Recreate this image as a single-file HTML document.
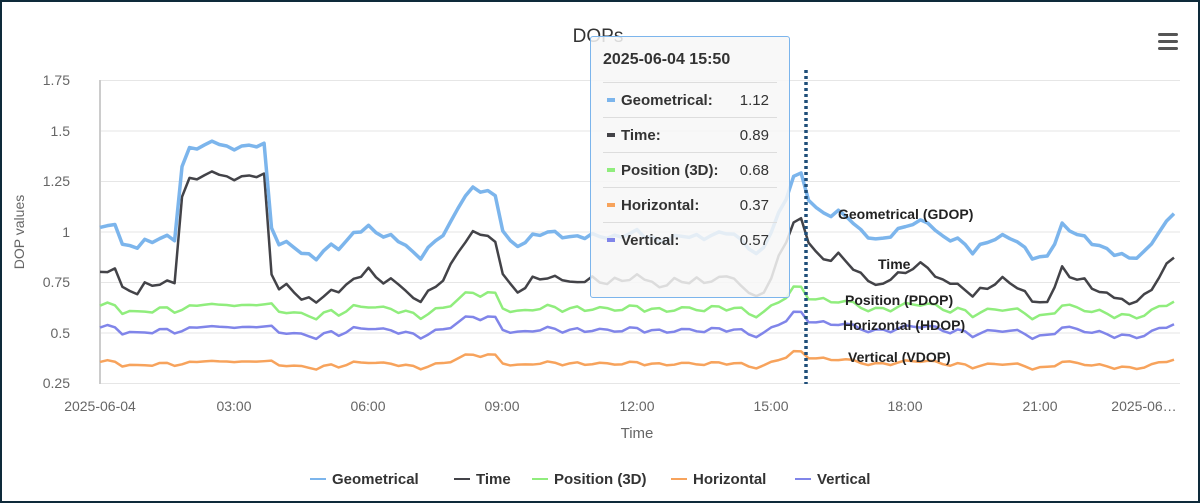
<!DOCTYPE html>
<html><head><meta charset="utf-8"><style>
html,body{margin:0;padding:0;background:#fff}
#w{position:relative;width:1196px;height:499px;border:2px solid #0e2a3a;overflow:hidden;font-family:"Liberation Sans",sans-serif}
svg text{font-family:"Liberation Sans",sans-serif}
#tt{position:absolute;left:588px;top:34px;width:200px;height:262px;background:rgba(247,247,247,0.85);border:1px solid #7cb5ec;border-radius:3px;box-sizing:border-box;font-size:15px;color:#333}
#tt .r{position:absolute;left:12px;right:12px;height:35px;border-top:1px solid #ddd;line-height:35px}
#tt .r span.v{position:absolute;right:8px}
#tt i{display:inline-block;width:8px;height:4px;margin:0 6px 3px 4px;vertical-align:middle}
</style></head><body><div id="w">
<svg width="1196" height="499" viewBox="2 2 1196 499" xmlns="http://www.w3.org/2000/svg">
<text x="598" y="42" text-anchor="middle" font-size="19" fill="#333">DOPs</text>
<g fill="#555"><rect x="1158" y="33" width="20" height="3" rx="1.5"/><rect x="1158" y="40" width="20" height="3" rx="1.5"/><rect x="1158" y="47" width="20" height="3" rx="1.5"/></g>
<g stroke="#e6e6e6" stroke-width="1">
<line x1="100" x2="1180" y1="80.5" y2="80.5"/><line x1="100" x2="1180" y1="131" y2="131"/><line x1="100" x2="1180" y1="181.5" y2="181.5"/><line x1="100" x2="1180" y1="232" y2="232"/><line x1="100" x2="1180" y1="282.5" y2="282.5"/><line x1="100" x2="1180" y1="333" y2="333"/><line x1="100" x2="1180" y1="383.5" y2="383.5"/>
</g>
<line x1="100" x2="100" y1="80" y2="384" stroke="#ccc" stroke-width="2"/>
<g font-size="14" fill="#666" text-anchor="end">
<text x="70" y="85">1.75</text><text x="70" y="136">1.5</text><text x="70" y="186">1.25</text><text x="70" y="237">1</text><text x="70" y="287">0.75</text><text x="70" y="338">0.5</text><text x="70" y="388">0.25</text>
</g>
<text transform="translate(24,232) rotate(-90)" text-anchor="middle" font-size="14" fill="#666">DOP values</text>
<g font-size="14" fill="#666" text-anchor="middle">
<text x="100" y="411">2025-06-04</text><text x="234" y="411">03:00</text><text x="368" y="411">06:00</text><text x="502" y="411">09:00</text><text x="637" y="411">12:00</text><text x="771" y="411">15:00</text><text x="905" y="411">18:00</text><text x="1040" y="411">21:00</text><text x="1144" y="411">2025-06…</text>
</g>
<text x="637" y="438" text-anchor="middle" font-size="15" fill="#666">Time</text>
<g id="series" fill="none" stroke-linejoin="round"></g>
<line x1="806" x2="806" y1="70" y2="384" stroke="#1f4e79" stroke-width="3.5" stroke-dasharray="3,3"/>
<g font-size="14" font-weight="bold" fill="#222">
<text x="838" y="219">Geometrical (GDOP)</text><text x="878" y="269">Time</text><text x="845" y="305">Position (PDOP)</text><text x="843" y="330">Horizontal (HDOP)</text><text x="848" y="362">Vertical (VDOP)</text>
</g>
<g font-size="15" font-weight="bold" fill="#333">
<line x1="310" x2="326" y1="479" y2="479" stroke="#7cb5ec" stroke-width="2"/><text x="332" y="484">Geometrical</text>
<line x1="454" x2="470" y1="479" y2="479" stroke="#434348" stroke-width="2"/><text x="476" y="484">Time</text>
<line x1="532" x2="548" y1="479" y2="479" stroke="#90ed7d" stroke-width="2"/><text x="554" y="484">Position (3D)</text>
<line x1="671" x2="687" y1="479" y2="479" stroke="#f7a35c" stroke-width="2"/><text x="693" y="484">Horizontal</text>
<line x1="795" x2="811" y1="479" y2="479" stroke="#8085e9" stroke-width="2"/><text x="817" y="484">Vertical</text>
</g>
</svg>
<div id="tt">
<div style="position:absolute;left:12px;top:14px;font-weight:bold;font-size:16px">2025-06-04 15:50</div>
<div class="r" style="top:45px"><i style="background:#7cb5ec"></i><b>Geometrical:</b><span class="v">1.12</span></div>
<div class="r" style="top:80px"><i style="background:#434348"></i><b>Time:</b><span class="v">0.89</span></div>
<div class="r" style="top:115px"><i style="background:#90ed7d"></i><b>Position (3D):</b><span class="v">0.68</span></div>
<div class="r" style="top:150px"><i style="background:#f7a35c"></i><b>Horizontal:</b><span class="v">0.37</span></div>
<div class="r" style="top:185px"><i style="background:#8085e9"></i><b>Vertical:</b><span class="v">0.57</span></div>
</div>
</div>
<script>
var K=[[0,1.02],[0.2,1.02],[0.35,1.05],[0.45,0.92],[0.6,0.95],[0.75,0.9],[0.9,0.95],[1.2,0.95],[1.4,0.98],[1.6,0.96],[1.75,0.97],[1.85,1.39],[2.1,1.42],[2.4,1.42],[2.55,1.46],[2.9,1.40],[3.2,1.43],[3.4,1.41],[3.55,1.44],[3.72,1.43],[3.85,0.95],[4.2,0.94],[4.5,0.9],[4.8,0.86],[5.1,0.93],[5.4,0.92],[5.7,1.0],[6.0,1.02],[6.3,0.98],[6.6,0.97],[6.9,0.92],[7.1,0.86],[7.4,0.93],[7.8,1.02],[8.1,1.17],[8.4,1.22],[8.6,1.19],[8.8,1.22],[8.9,1.07],[9.1,0.96],[9.3,0.92],[9.6,0.97],[10,1.0],[10.5,0.97],[11,0.98],[11.5,0.97],[12,1.0],[12.5,0.95],[13,0.98],[13.5,0.97],[14,1.0],[14.4,0.95],[14.7,0.87],[15.0,1.0],[15.3,1.15],[15.6,1.33],[15.9,1.12],[16.3,1.08],[16.6,1.1],[17,1.0],[17.4,0.95],[17.8,1.0],[18.1,1.04],[18.5,1.05],[18.8,0.97],[19.2,0.96],[19.5,0.9],[19.9,0.96],[20.3,0.98],[20.6,0.93],[20.9,0.86],[21.2,0.88],[21.5,1.03],[21.9,0.98],[22.3,0.93],[22.7,0.89],[23.0,0.87],[23.3,0.88],[23.6,0.98],[23.9,1.06],[24,1.1]];
function g(t){for(var i=1;i<K.length;i++)if(t<=K[i][0]){var a=K[i-1],b=K[i];return a[1]+(b[1]-a[1])*(t-a[0])/(b[0]-a[0]);}return K[K.length-1][1];}
function X(t){return 100+t*(1074/24);}function Y(v){return 383-(v-0.25)*202;}
var S={G:[],T:[],P:[],H:[],V:[]};
for(var k=0;k<=144;k++){var t=k/6,G=g(t)+0.012*Math.sin(k*2.3);var d=(t>1.8&&t<3.8)?0.15:0.22+0.01*Math.sin(k*1.7);var T=G-d;var P=Math.sqrt(Math.max(G*G-T*T,0.1));var H=P*0.56,V=Math.sqrt(P*P-H*H);
var x=X(t);S.G.push(x+','+Y(G));S.T.push(x+','+Y(T));S.P.push(x+','+Y(P));S.H.push(x+','+Y(H));S.V.push(x+','+Y(V));}
var C=[['H','#f7a35c',2.5],['V','#8085e9',2.5],['P','#90ed7d',2.5],['T','#434348',2.5],['G','#7cb5ec',3.5]];
var h='';C.forEach(function(c){h+='<polyline points="'+S[c[0]].join(' ')+'" stroke="'+c[1]+'" stroke-width="'+c[2]+'"/>';});
document.getElementById('series').innerHTML=h;
</script>
</body></html>
